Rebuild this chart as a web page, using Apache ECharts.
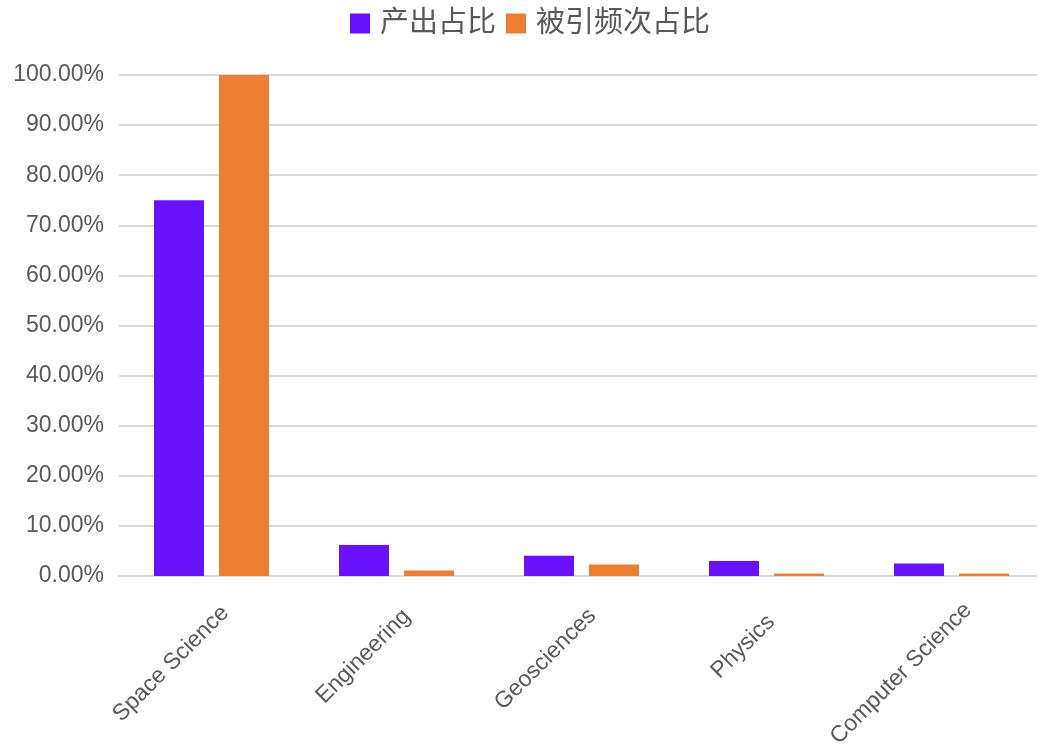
<!DOCTYPE html>
<html><head><meta charset="utf-8">
<script src="https://cdn.jsdelivr.net/npm/echarts@6/dist/echarts.min.js"></script>
<style>html,body{margin:0;padding:0;background:#fff;overflow:hidden}#c{width:1044px;height:752px}</style>
</head><body><div id="c"></div>
<script>
var categories = ['Space Science', 'Engineering', 'Geosciences', 'Physics', 'Computer Science'];
var outputShare = [75.0, 6.2, 4.05, 3.0, 2.5];
var citationShare = [100.0, 1.1, 2.3, 0.5, 0.5];
var seriesNames = ['产出占比', '被引频次占比'];

var chart = echarts.init(document.getElementById('c'), null, {renderer: 'canvas'});
var font = '"Liberation Sans", Arial, "Noto Sans CJK SC", sans-serif';
// label offsets along the rotated text direction (style only)
var labelShift = [4, 9, 8, 17, 0];
var rich = {};
labelShift.forEach(function (s, i) {
  rich['p' + i] = {fontSize: 23, color: '#595959', fontFamily: font, padding: [0, s, 0, 0]};
});
chart.setOption({
  animation: false,
  textStyle: {fontFamily: font},
  legend: {
    top: 9, left: 350, padding: 0,
    itemWidth: 20, itemHeight: 20, itemGap: 10,
    icon: 'rect',
    textStyle: {fontSize: 29, color: '#595959', fontFamily: font, padding: [0, 0, 0, 5]},
    data: seriesNames
  },
  grid: {left: 119, right: 0, top: 75, bottom: 176, containLabel: false},
  xAxis: {
    type: 'category', data: categories,
    axisLine: {lineStyle: {color: '#d9d9d9', width: 2}},
    axisTick: {show: false},
    axisLabel: {rotate: 45, fontSize: 23, color: '#595959', interval: 0, margin: 14,
      verticalAlign: 'top', padding: [12, 0, 0, 0], fontFamily: font,
      formatter: function (v, i) { return '{p' + i + '|' + v + '}'; },
      rich: rich}
  },
  yAxis: {
    type: 'value', min: 0, max: 100, interval: 10,
    axisLine: {show: false}, axisTick: {show: false},
    splitLine: {lineStyle: {color: '#d9d9d9', width: 2}},
    axisLabel: {fontSize: 23, color: '#595959', margin: 15, fontFamily: font,
      formatter: function (v) { return v.toFixed(2) + '%'; }}
  },
  series: [
    {name: seriesNames[0], type: 'bar', data: outputShare, barWidth: 50, barGap: '30%',
     itemStyle: {color: '#6a11fb'}},
    {name: seriesNames[1], type: 'bar', data: citationShare, barWidth: 50,
     itemStyle: {color: '#ed7d31'}}
  ]
});
</script></body></html>
